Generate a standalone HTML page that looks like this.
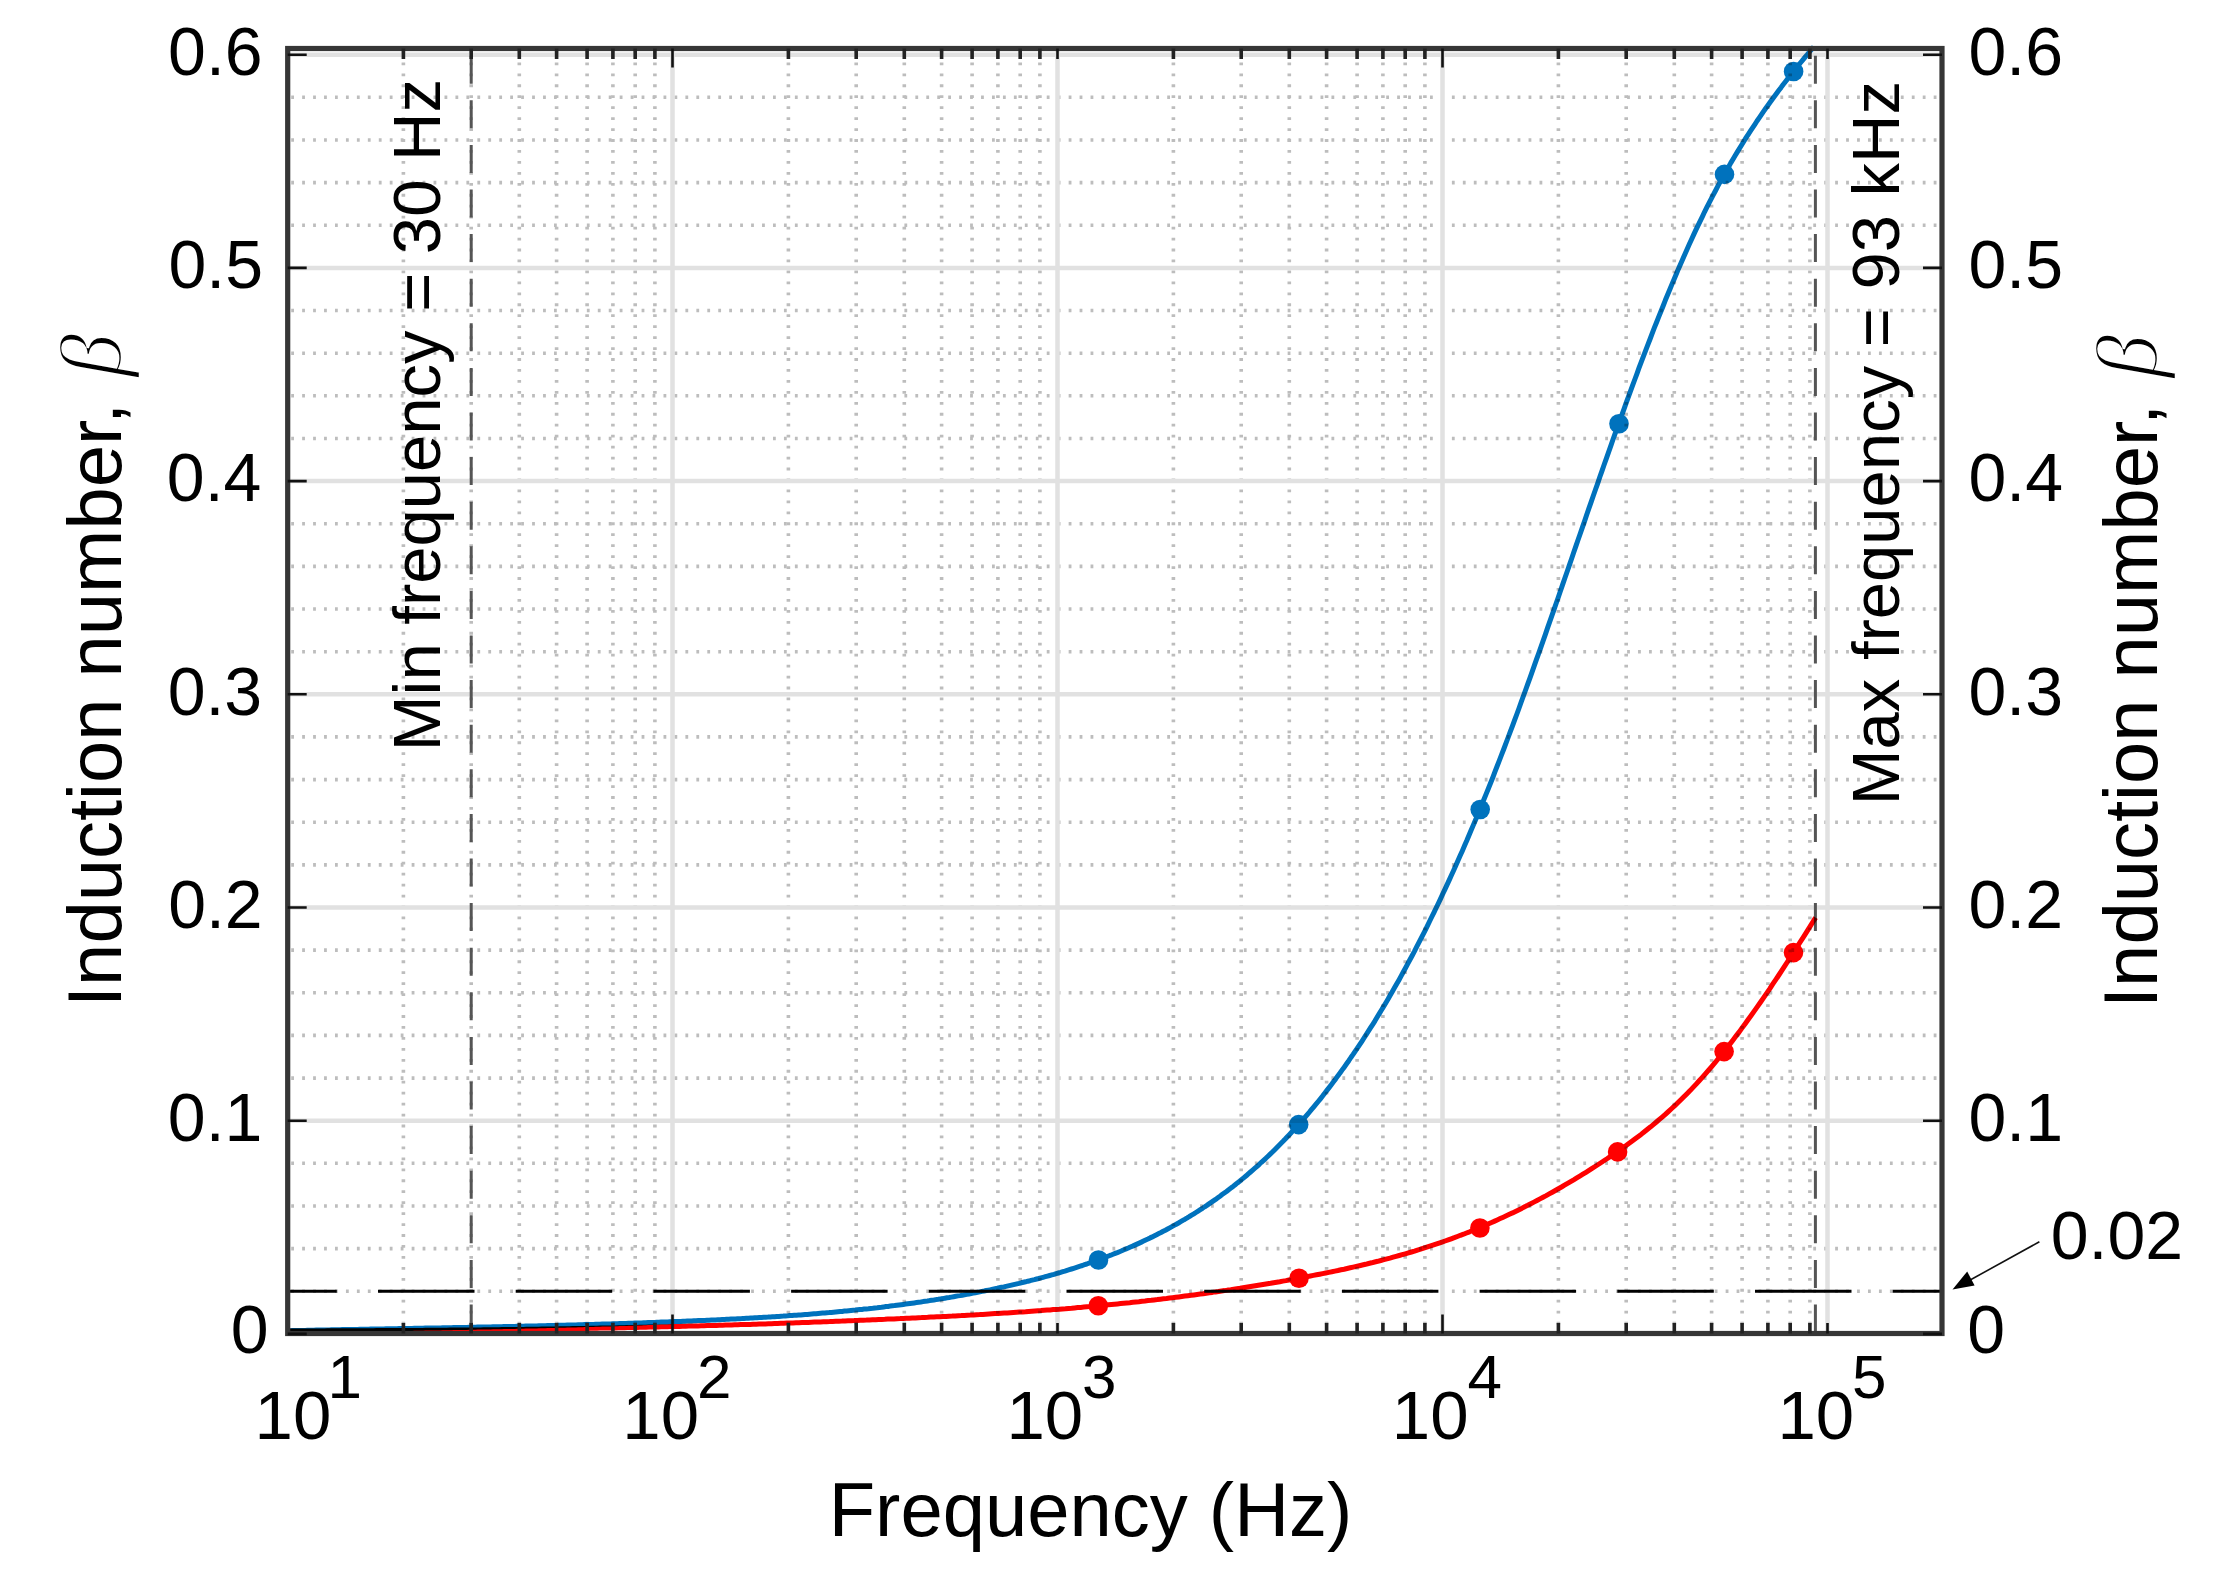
<!DOCTYPE html>
<html><head><meta charset="utf-8"><title>Induction number vs frequency</title>
<style>html,body{margin:0;padding:0;background:#fff;overflow:hidden;}svg{display:block;}</style>
</head><body>
<svg width="2215" height="1588" viewBox="0 0 2215 1588">
<rect x="0" y="0" width="2215" height="1588" fill="#fff"/>
<path d="M403.4 49.0V1331.5M471.2 49.0V1331.5M519.3 49.0V1331.5M556.6 49.0V1331.5M587.1 49.0V1331.5M612.9 49.0V1331.5M635.2 49.0V1331.5M654.9 49.0V1331.5M788.4 49.0V1331.5M856.2 49.0V1331.5M904.3 49.0V1331.5M941.6 49.0V1331.5M972.1 49.0V1331.5M997.9 49.0V1331.5M1020.2 49.0V1331.5M1039.9 49.0V1331.5M1173.4 49.0V1331.5M1241.2 49.0V1331.5M1289.3 49.0V1331.5M1326.6 49.0V1331.5M1357.1 49.0V1331.5M1382.9 49.0V1331.5M1405.2 49.0V1331.5M1424.9 49.0V1331.5M1558.4 49.0V1331.5M1626.2 49.0V1331.5M1674.3 49.0V1331.5M1711.6 49.0V1331.5M1742.1 49.0V1331.5M1767.9 49.0V1331.5M1790.2 49.0V1331.5M1809.9 49.0V1331.5" stroke="#bdbdbd" stroke-width="3.6" stroke-dasharray="2.8 8.15" stroke-dashoffset="-2.5" fill="none"/>
<path d="M289.7 1291.3H1940.0M289.7 1248.6H1940.0M289.7 1206.0H1940.0M289.7 1163.3H1940.0M289.7 1078.1H1940.0M289.7 1035.4H1940.0M289.7 992.8H1940.0M289.7 950.1H1940.0M289.7 864.9H1940.0M289.7 822.2H1940.0M289.7 779.6H1940.0M289.7 736.9H1940.0M289.7 651.7H1940.0M289.7 609.0H1940.0M289.7 566.4H1940.0M289.7 523.7H1940.0M289.7 438.5H1940.0M289.7 395.8H1940.0M289.7 353.2H1940.0M289.7 310.5H1940.0M289.7 225.3H1940.0M289.7 182.6H1940.0M289.7 140.0H1940.0M289.7 97.3H1940.0" stroke="#bdbdbd" stroke-width="3.6" stroke-dasharray="2.8 8.15" stroke-dashoffset="-1.5" fill="none"/>
<path d="M672.5 48.5V1333.5M1057.5 48.5V1333.5M1442.5 48.5V1333.5M1827.5 48.5V1333.5M287.7 1120.7H1942.0M287.7 907.5H1942.0M287.7 694.3H1942.0M287.7 481.1H1942.0M287.7 267.9H1942.0M287.7 54.7H1942.0" stroke="#e1e1e1" stroke-width="4.5" fill="none"/>
<path d="M471.2 46.0V1333.5" stroke="#555" stroke-width="3" stroke-dasharray="28 16.6" stroke-dashoffset="34.90" fill="none"/>
<path d="M1815.4 46.0V1333.5" stroke="#555" stroke-width="3" stroke-dasharray="28 16.6" stroke-dashoffset="34.90" fill="none"/>
<path d="M287.7 1291.3H1942.0" stroke="#000" stroke-width="3" stroke-dasharray="96.5 41.2" stroke-dashoffset="47.40" fill="none"/>
<g style="mix-blend-mode:multiply">
<path d="M287.7 1331.0 L290.8 1331.0 L293.8 1330.9 L296.9 1330.9 L299.9 1330.9 L303.0 1330.9 L306.1 1330.9 L309.1 1330.9 L312.2 1330.9 L315.3 1330.9 L318.3 1330.9 L321.4 1330.9 L324.4 1330.9 L327.5 1330.8 L330.6 1330.8 L333.6 1330.8 L336.7 1330.8 L339.8 1330.8 L342.8 1330.8 L345.9 1330.8 L348.9 1330.8 L352.0 1330.8 L355.1 1330.7 L358.1 1330.7 L361.2 1330.7 L364.2 1330.7 L367.3 1330.7 L370.4 1330.7 L373.4 1330.7 L376.5 1330.6 L379.6 1330.6 L382.6 1330.6 L385.7 1330.6 L388.7 1330.6 L391.8 1330.6 L394.9 1330.5 L397.9 1330.5 L401.0 1330.5 L404.1 1330.5 L407.1 1330.5 L410.2 1330.4 L413.2 1330.4 L416.3 1330.4 L419.4 1330.4 L422.4 1330.4 L425.5 1330.3 L428.5 1330.3 L431.6 1330.3 L434.7 1330.3 L437.7 1330.2 L440.8 1330.2 L443.9 1330.2 L446.9 1330.2 L450.0 1330.1 L453.0 1330.1 L456.1 1330.1 L459.2 1330.1 L462.2 1330.0 L465.3 1330.0 L468.4 1330.0 L471.4 1330.0 L474.5 1329.9 L477.5 1329.9 L480.6 1329.9 L483.7 1329.8 L486.7 1329.8 L489.8 1329.8 L492.8 1329.7 L495.9 1329.7 L499.0 1329.7 L502.0 1329.6 L505.1 1329.6 L508.2 1329.6 L511.2 1329.5 L514.3 1329.5 L517.3 1329.4 L520.4 1329.4 L523.5 1329.4 L526.5 1329.3 L529.6 1329.3 L532.7 1329.2 L535.7 1329.2 L538.8 1329.2 L541.8 1329.1 L544.9 1329.1 L548.0 1329.0 L551.0 1329.0 L554.1 1328.9 L557.1 1328.9 L560.2 1328.8 L563.3 1328.8 L566.3 1328.7 L569.4 1328.7 L572.5 1328.6 L575.5 1328.6 L578.6 1328.5 L581.6 1328.5 L584.7 1328.4 L587.8 1328.4 L590.8 1328.3 L593.9 1328.3 L597.0 1328.2 L600.0 1328.1 L603.1 1328.1 L606.1 1328.0 L609.2 1328.0 L612.3 1327.9 L615.3 1327.9 L618.4 1327.8 L621.4 1327.7 L624.5 1327.7 L627.6 1327.6 L630.6 1327.5 L633.7 1327.5 L636.8 1327.4 L639.8 1327.3 L642.9 1327.3 L645.9 1327.2 L649.0 1327.1 L652.1 1327.1 L655.1 1327.0 L658.2 1326.9 L661.3 1326.8 L664.3 1326.8 L667.4 1326.7 L670.4 1326.6 L673.5 1326.5 L676.6 1326.5 L679.6 1326.4 L682.7 1326.3 L685.8 1326.2 L688.8 1326.1 L691.9 1326.1 L694.9 1326.0 L698.0 1325.9 L701.1 1325.8 L704.1 1325.7 L707.2 1325.6 L710.2 1325.6 L713.3 1325.5 L716.4 1325.4 L719.4 1325.3 L722.5 1325.2 L725.6 1325.1 L728.6 1325.0 L731.7 1324.9 L734.7 1324.8 L737.8 1324.7 L740.9 1324.6 L743.9 1324.6 L747.0 1324.5 L750.1 1324.4 L753.1 1324.3 L756.2 1324.2 L759.2 1324.1 L762.3 1324.0 L765.4 1323.9 L768.4 1323.8 L771.5 1323.7 L774.5 1323.6 L777.6 1323.5 L780.7 1323.3 L783.7 1323.2 L786.8 1323.1 L789.9 1323.0 L792.9 1322.9 L796.0 1322.8 L799.0 1322.7 L802.1 1322.6 L805.2 1322.5 L808.2 1322.4 L811.3 1322.2 L814.4 1322.1 L817.4 1322.0 L820.5 1321.9 L823.5 1321.8 L826.6 1321.7 L829.7 1321.6 L832.7 1321.4 L835.8 1321.3 L838.8 1321.2 L841.9 1321.1 L845.0 1320.9 L848.0 1320.8 L851.1 1320.7 L854.2 1320.6 L857.2 1320.4 L860.3 1320.3 L863.3 1320.2 L866.4 1320.1 L869.5 1319.9 L872.5 1319.8 L875.6 1319.7 L878.7 1319.5 L881.7 1319.4 L884.8 1319.3 L887.8 1319.1 L890.9 1319.0 L894.0 1318.9 L897.0 1318.7 L900.1 1318.6 L903.1 1318.4 L906.2 1318.3 L909.3 1318.2 L912.3 1318.0 L915.4 1317.9 L918.5 1317.7 L921.5 1317.6 L924.6 1317.4 L927.6 1317.3 L930.7 1317.1 L933.8 1317.0 L936.8 1316.8 L939.9 1316.7 L943.0 1316.5 L946.0 1316.4 L949.1 1316.2 L952.1 1316.1 L955.2 1315.9 L958.3 1315.7 L961.3 1315.6 L964.4 1315.4 L967.4 1315.2 L970.5 1315.1 L973.6 1314.9 L976.6 1314.7 L979.7 1314.6 L982.8 1314.4 L985.8 1314.2 L988.9 1314.0 L991.9 1313.8 L995.0 1313.6 L998.1 1313.5 L1001.1 1313.3 L1004.2 1313.1 L1007.3 1312.9 L1010.3 1312.7 L1013.4 1312.5 L1016.4 1312.3 L1019.5 1312.1 L1022.6 1311.9 L1025.6 1311.7 L1028.7 1311.4 L1031.7 1311.2 L1034.8 1311.0 L1037.9 1310.8 L1040.9 1310.6 L1044.0 1310.3 L1047.1 1310.1 L1050.1 1309.9 L1053.2 1309.6 L1056.2 1309.4 L1059.3 1309.2 L1062.4 1308.9 L1065.4 1308.7 L1068.5 1308.4 L1071.6 1308.2 L1074.6 1307.9 L1077.7 1307.6 L1080.7 1307.4 L1083.8 1307.1 L1086.9 1306.8 L1089.9 1306.6 L1093.0 1306.3 L1096.0 1306.0 L1099.1 1305.7 L1102.2 1305.4 L1105.2 1305.1 L1108.3 1304.8 L1111.4 1304.5 L1114.4 1304.2 L1117.5 1303.9 L1120.5 1303.6 L1123.6 1303.3 L1126.7 1303.0 L1129.7 1302.7 L1132.8 1302.3 L1135.9 1302.0 L1138.9 1301.7 L1142.0 1301.3 L1145.0 1301.0 L1148.1 1300.6 L1151.2 1300.3 L1154.2 1299.9 L1157.3 1299.6 L1160.3 1299.2 L1163.4 1298.8 L1166.5 1298.5 L1169.5 1298.1 L1172.6 1297.7 L1175.7 1297.3 L1178.7 1296.9 L1181.8 1296.5 L1184.8 1296.1 L1187.9 1295.7 L1191.0 1295.3 L1194.0 1294.9 L1197.1 1294.5 L1200.2 1294.1 L1203.2 1293.7 L1206.3 1293.2 L1209.3 1292.8 L1212.4 1292.4 L1215.5 1291.9 L1218.5 1291.5 L1221.6 1291.0 L1224.6 1290.6 L1227.7 1290.1 L1230.8 1289.7 L1233.8 1289.2 L1236.9 1288.7 L1240.0 1288.3 L1243.0 1287.8 L1246.1 1287.3 L1249.1 1286.8 L1252.2 1286.3 L1255.3 1285.8 L1258.3 1285.3 L1261.4 1284.8 L1264.5 1284.3 L1267.5 1283.8 L1270.6 1283.3 L1273.6 1282.7 L1276.7 1282.2 L1279.8 1281.7 L1282.8 1281.1 L1285.9 1280.6 L1288.9 1280.0 L1292.0 1279.5 L1295.1 1278.9 L1298.1 1278.3 L1301.2 1277.8 L1304.3 1277.2 L1307.3 1276.6 L1310.4 1276.0 L1313.4 1275.4 L1316.5 1274.8 L1319.6 1274.2 L1322.6 1273.6 L1325.7 1273.0 L1328.8 1272.4 L1331.8 1271.8 L1334.9 1271.1 L1337.9 1270.5 L1341.0 1269.8 L1344.1 1269.2 L1347.1 1268.5 L1350.2 1267.8 L1353.2 1267.1 L1356.3 1266.4 L1359.4 1265.7 L1362.4 1265.0 L1365.5 1264.3 L1368.6 1263.5 L1371.6 1262.8 L1374.7 1262.0 L1377.7 1261.3 L1380.8 1260.5 L1383.9 1259.7 L1386.9 1258.9 L1390.0 1258.1 L1393.1 1257.2 L1396.1 1256.4 L1399.2 1255.5 L1402.2 1254.7 L1405.3 1253.8 L1408.4 1252.9 L1411.4 1252.0 L1414.5 1251.1 L1417.5 1250.1 L1420.6 1249.2 L1423.7 1248.2 L1426.7 1247.2 L1429.8 1246.2 L1432.9 1245.2 L1435.9 1244.2 L1439.0 1243.1 L1442.0 1242.1 L1445.1 1241.0 L1448.2 1239.9 L1451.2 1238.8 L1454.3 1237.7 L1457.4 1236.5 L1460.4 1235.3 L1463.5 1234.2 L1466.5 1233.0 L1469.6 1231.8 L1472.7 1230.5 L1475.7 1229.3 L1478.8 1228.0 L1481.9 1226.7 L1484.9 1225.4 L1488.0 1224.1 L1491.0 1222.7 L1494.1 1221.4 L1497.2 1220.0 L1500.2 1218.6 L1503.3 1217.2 L1506.3 1215.8 L1509.4 1214.3 L1512.5 1212.9 L1515.5 1211.4 L1518.6 1209.9 L1521.7 1208.4 L1524.7 1206.8 L1527.8 1205.3 L1530.8 1203.7 L1533.9 1202.1 L1537.0 1200.5 L1540.0 1198.9 L1543.1 1197.2 L1546.2 1195.6 L1549.2 1193.9 L1552.3 1192.2 L1555.3 1190.5 L1558.4 1188.7 L1561.5 1187.0 L1564.5 1185.2 L1567.6 1183.4 L1570.6 1181.6 L1573.7 1179.8 L1576.8 1177.9 L1579.8 1176.1 L1582.9 1174.2 L1586.0 1172.3 L1589.0 1170.4 L1592.1 1168.4 L1595.1 1166.5 L1598.2 1164.5 L1601.3 1162.5 L1604.3 1160.5 L1607.4 1158.5 L1610.5 1156.4 L1613.5 1154.4 L1616.6 1152.3 L1619.6 1150.1 L1622.7 1148.0 L1625.8 1145.8 L1628.8 1143.6 L1631.9 1141.3 L1634.9 1139.0 L1638.0 1136.7 L1641.1 1134.4 L1644.1 1132.0 L1647.2 1129.5 L1650.3 1127.1 L1653.3 1124.6 L1656.4 1122.0 L1659.4 1119.4 L1662.5 1116.8 L1665.6 1114.1 L1668.6 1111.3 L1671.7 1108.5 L1674.8 1105.7 L1677.8 1102.8 L1680.9 1099.8 L1683.9 1096.8 L1687.0 1093.7 L1690.1 1090.6 L1693.1 1087.4 L1696.2 1084.1 L1699.2 1080.8 L1702.3 1077.4 L1705.4 1073.9 L1708.4 1070.4 L1711.5 1066.8 L1714.6 1063.2 L1717.6 1059.5 L1720.7 1055.7 L1723.7 1051.9 L1726.8 1048.1 L1729.9 1044.1 L1732.9 1040.2 L1736.0 1036.1 L1739.1 1032.1 L1742.1 1027.9 L1745.2 1023.7 L1748.2 1019.5 L1751.3 1015.3 L1754.4 1010.9 L1757.4 1006.6 L1760.5 1002.2 L1763.5 997.8 L1766.6 993.3 L1769.7 988.8 L1772.7 984.2 L1775.8 979.7 L1778.9 975.0 L1781.9 970.4 L1785.0 965.7 L1788.0 961.0 L1791.1 956.3 L1794.2 951.5 L1797.2 946.7 L1800.3 941.9 L1803.4 937.1 L1806.4 932.3 L1809.5 927.4 L1812.5 922.5 L1815.6 917.6" stroke="#ff0000" stroke-width="5" fill="none" stroke-linejoin="round"/>
<circle cx="1098.3" cy="1305.8" r="9.8" fill="#ff0000"/>
<circle cx="1299.0" cy="1278.2" r="9.8" fill="#ff0000"/>
<circle cx="1479.9" cy="1228.0" r="9.8" fill="#ff0000"/>
<circle cx="1617.6" cy="1151.9" r="9.8" fill="#ff0000"/>
<circle cx="1724.1" cy="1051.6" r="9.8" fill="#ff0000"/>
<circle cx="1793.5" cy="952.6" r="9.8" fill="#ff0000"/>
</g><g style="mix-blend-mode:multiply">
<path d="M287.7 1330.7 L289.9 1330.7 L292.1 1330.6 L294.2 1330.6 L296.4 1330.5 L298.6 1330.5 L300.8 1330.4 L303.0 1330.4 L305.2 1330.4 L307.3 1330.3 L309.5 1330.3 L311.7 1330.2 L313.9 1330.2 L316.1 1330.1 L318.3 1330.1 L320.4 1330.1 L322.6 1330.0 L324.8 1330.0 L327.0 1329.9 L329.2 1329.9 L331.4 1329.8 L333.5 1329.8 L335.7 1329.8 L337.9 1329.7 L340.1 1329.7 L342.3 1329.6 L344.5 1329.6 L346.6 1329.6 L348.8 1329.5 L351.0 1329.5 L353.2 1329.4 L355.4 1329.4 L357.6 1329.4 L359.7 1329.3 L361.9 1329.3 L364.1 1329.2 L366.3 1329.2 L368.5 1329.2 L370.7 1329.1 L372.8 1329.1 L375.0 1329.0 L377.2 1329.0 L379.4 1329.0 L381.6 1328.9 L383.8 1328.9 L385.9 1328.8 L388.1 1328.8 L390.3 1328.8 L392.5 1328.7 L394.7 1328.7 L396.9 1328.7 L399.0 1328.6 L401.2 1328.6 L403.4 1328.5 L405.6 1328.5 L407.8 1328.5 L410.0 1328.4 L412.1 1328.4 L414.3 1328.3 L416.5 1328.3 L418.7 1328.3 L420.9 1328.2 L423.1 1328.2 L425.2 1328.1 L427.4 1328.1 L429.6 1328.1 L431.8 1328.0 L434.0 1328.0 L436.2 1327.9 L438.3 1327.9 L440.5 1327.9 L442.7 1327.8 L444.9 1327.8 L447.1 1327.7 L449.3 1327.7 L451.4 1327.7 L453.6 1327.6 L455.8 1327.6 L458.0 1327.5 L460.2 1327.5 L462.4 1327.4 L464.5 1327.4 L466.7 1327.4 L468.9 1327.3 L471.1 1327.3 L473.3 1327.2 L475.5 1327.2 L477.6 1327.1 L479.8 1327.1 L482.0 1327.1 L484.2 1327.0 L486.4 1327.0 L488.6 1326.9 L490.7 1326.9 L492.9 1326.8 L495.1 1326.8 L497.3 1326.7 L499.5 1326.7 L501.7 1326.7 L503.8 1326.6 L506.0 1326.6 L508.2 1326.5 L510.4 1326.5 L512.6 1326.4 L514.8 1326.4 L516.9 1326.3 L519.1 1326.3 L521.3 1326.2 L523.5 1326.2 L525.7 1326.1 L527.9 1326.1 L530.0 1326.0 L532.2 1326.0 L534.4 1325.9 L536.6 1325.9 L538.8 1325.8 L541.0 1325.8 L543.1 1325.7 L545.3 1325.7 L547.5 1325.6 L549.7 1325.6 L551.9 1325.5 L554.1 1325.4 L556.2 1325.4 L558.4 1325.3 L560.6 1325.3 L562.8 1325.2 L565.0 1325.2 L567.2 1325.1 L569.3 1325.0 L571.5 1325.0 L573.7 1324.9 L575.9 1324.9 L578.1 1324.8 L580.3 1324.8 L582.4 1324.7 L584.6 1324.6 L586.8 1324.6 L589.0 1324.5 L591.2 1324.4 L593.4 1324.4 L595.5 1324.3 L597.7 1324.3 L599.9 1324.2 L602.1 1324.1 L604.3 1324.1 L606.5 1324.0 L608.6 1323.9 L610.8 1323.9 L613.0 1323.8 L615.2 1323.7 L617.4 1323.7 L619.6 1323.6 L621.7 1323.5 L623.9 1323.4 L626.1 1323.4 L628.3 1323.3 L630.5 1323.2 L632.7 1323.2 L634.8 1323.1 L637.0 1323.0 L639.2 1322.9 L641.4 1322.9 L643.6 1322.8 L645.8 1322.7 L647.9 1322.6 L650.1 1322.5 L652.3 1322.5 L654.5 1322.4 L656.7 1322.3 L658.9 1322.2 L661.0 1322.1 L663.2 1322.1 L665.4 1322.0 L667.6 1321.9 L669.8 1321.8 L672.0 1321.7 L674.1 1321.6 L676.3 1321.6 L678.5 1321.5 L680.7 1321.4 L682.9 1321.3 L685.1 1321.2 L687.2 1321.1 L689.4 1321.0 L691.6 1320.9 L693.8 1320.8 L696.0 1320.7 L698.2 1320.6 L700.3 1320.5 L702.5 1320.5 L704.7 1320.4 L706.9 1320.3 L709.1 1320.2 L711.3 1320.1 L713.4 1320.0 L715.6 1319.9 L717.8 1319.8 L720.0 1319.7 L722.2 1319.5 L724.4 1319.4 L726.5 1319.3 L728.7 1319.2 L730.9 1319.1 L733.1 1319.0 L735.3 1318.9 L737.5 1318.8 L739.6 1318.7 L741.8 1318.6 L744.0 1318.4 L746.2 1318.3 L748.4 1318.2 L750.6 1318.1 L752.7 1318.0 L754.9 1317.8 L757.1 1317.7 L759.3 1317.6 L761.5 1317.5 L763.7 1317.3 L765.8 1317.2 L768.0 1317.1 L770.2 1316.9 L772.4 1316.8 L774.6 1316.7 L776.8 1316.5 L778.9 1316.4 L781.1 1316.2 L783.3 1316.1 L785.5 1315.9 L787.7 1315.8 L789.9 1315.6 L792.0 1315.5 L794.2 1315.3 L796.4 1315.2 L798.6 1315.0 L800.8 1314.9 L802.9 1314.7 L805.1 1314.5 L807.3 1314.4 L809.5 1314.2 L811.7 1314.0 L813.9 1313.8 L816.0 1313.7 L818.2 1313.5 L820.4 1313.3 L822.6 1313.1 L824.8 1312.9 L827.0 1312.7 L829.1 1312.6 L831.3 1312.4 L833.5 1312.2 L835.7 1312.0 L837.9 1311.8 L840.1 1311.6 L842.2 1311.4 L844.4 1311.1 L846.6 1310.9 L848.8 1310.7 L851.0 1310.5 L853.2 1310.3 L855.3 1310.1 L857.5 1309.8 L859.7 1309.6 L861.9 1309.4 L864.1 1309.1 L866.3 1308.9 L868.4 1308.7 L870.6 1308.4 L872.8 1308.2 L875.0 1307.9 L877.2 1307.7 L879.4 1307.4 L881.5 1307.2 L883.7 1306.9 L885.9 1306.6 L888.1 1306.4 L890.3 1306.1 L892.5 1305.8 L894.6 1305.6 L896.8 1305.3 L899.0 1305.0 L901.2 1304.7 L903.4 1304.4 L905.6 1304.1 L907.7 1303.8 L909.9 1303.5 L912.1 1303.2 L914.3 1302.9 L916.5 1302.6 L918.7 1302.3 L920.8 1302.0 L923.0 1301.6 L925.2 1301.3 L927.4 1301.0 L929.6 1300.6 L931.8 1300.3 L933.9 1300.0 L936.1 1299.6 L938.3 1299.3 L940.5 1298.9 L942.7 1298.6 L944.9 1298.2 L947.0 1297.8 L949.2 1297.5 L951.4 1297.1 L953.6 1296.7 L955.8 1296.3 L958.0 1295.9 L960.1 1295.6 L962.3 1295.2 L964.5 1294.8 L966.7 1294.4 L968.9 1294.0 L971.1 1293.5 L973.2 1293.1 L975.4 1292.7 L977.6 1292.3 L979.8 1291.9 L982.0 1291.4 L984.2 1291.0 L986.3 1290.5 L988.5 1290.1 L990.7 1289.7 L992.9 1289.2 L995.1 1288.7 L997.3 1288.3 L999.4 1287.8 L1001.6 1287.3 L1003.8 1286.9 L1006.0 1286.4 L1008.2 1285.9 L1010.4 1285.4 L1012.5 1284.9 L1014.7 1284.4 L1016.9 1283.9 L1019.1 1283.4 L1021.3 1282.8 L1023.5 1282.3 L1025.6 1281.8 L1027.8 1281.2 L1030.0 1280.7 L1032.2 1280.1 L1034.4 1279.6 L1036.6 1279.0 L1038.7 1278.5 L1040.9 1277.9 L1043.1 1277.3 L1045.3 1276.7 L1047.5 1276.1 L1049.7 1275.5 L1051.8 1274.9 L1054.0 1274.3 L1056.2 1273.6 L1058.4 1273.0 L1060.6 1272.4 L1062.8 1271.7 L1064.9 1271.1 L1067.1 1270.4 L1069.3 1269.7 L1071.5 1269.0 L1073.7 1268.3 L1075.9 1267.6 L1078.0 1266.9 L1080.2 1266.2 L1082.4 1265.5 L1084.6 1264.7 L1086.8 1264.0 L1089.0 1263.2 L1091.1 1262.5 L1093.3 1261.7 L1095.5 1260.9 L1097.7 1260.1 L1099.9 1259.3 L1102.1 1258.5 L1104.2 1257.7 L1106.4 1256.9 L1108.6 1256.0 L1110.8 1255.2 L1113.0 1254.3 L1115.2 1253.4 L1117.3 1252.6 L1119.5 1251.7 L1121.7 1250.8 L1123.9 1249.8 L1126.1 1248.9 L1128.3 1248.0 L1130.4 1247.0 L1132.6 1246.1 L1134.8 1245.1 L1137.0 1244.1 L1139.2 1243.1 L1141.4 1242.1 L1143.5 1241.1 L1145.7 1240.0 L1147.9 1239.0 L1150.1 1237.9 L1152.3 1236.9 L1154.5 1235.8 L1156.6 1234.7 L1158.8 1233.6 L1161.0 1232.5 L1163.2 1231.3 L1165.4 1230.2 L1167.6 1229.0 L1169.7 1227.8 L1171.9 1226.6 L1174.1 1225.4 L1176.3 1224.2 L1178.5 1223.0 L1180.7 1221.7 L1182.8 1220.4 L1185.0 1219.2 L1187.2 1217.9 L1189.4 1216.5 L1191.6 1215.2 L1193.8 1213.9 L1195.9 1212.5 L1198.1 1211.1 L1200.3 1209.7 L1202.5 1208.3 L1204.7 1206.8 L1206.9 1205.4 L1209.0 1203.9 L1211.2 1202.4 L1213.4 1200.9 L1215.6 1199.4 L1217.8 1197.8 L1220.0 1196.2 L1222.1 1194.6 L1224.3 1193.0 L1226.5 1191.4 L1228.7 1189.7 L1230.9 1188.1 L1233.1 1186.4 L1235.2 1184.7 L1237.4 1182.9 L1239.6 1181.2 L1241.8 1179.4 L1244.0 1177.6 L1246.2 1175.8 L1248.3 1173.9 L1250.5 1172.0 L1252.7 1170.1 L1254.9 1168.2 L1257.1 1166.3 L1259.3 1164.3 L1261.4 1162.3 L1263.6 1160.3 L1265.8 1158.3 L1268.0 1156.2 L1270.2 1154.1 L1272.4 1152.0 L1274.5 1149.9 L1276.7 1147.7 L1278.9 1145.5 L1281.1 1143.3 L1283.3 1141.1 L1285.5 1138.8 L1287.6 1136.5 L1289.8 1134.2 L1292.0 1131.8 L1294.2 1129.5 L1296.4 1127.0 L1298.6 1124.6 L1300.7 1122.2 L1302.9 1119.7 L1305.1 1117.2 L1307.3 1114.6 L1309.5 1112.0 L1311.6 1109.4 L1313.8 1106.8 L1316.0 1104.2 L1318.2 1101.5 L1320.4 1098.8 L1322.6 1096.0 L1324.7 1093.2 L1326.9 1090.4 L1329.1 1087.6 L1331.3 1084.7 L1333.5 1081.8 L1335.7 1078.9 L1337.8 1075.9 L1340.0 1073.0 L1342.2 1069.9 L1344.4 1066.9 L1346.6 1063.8 L1348.8 1060.7 L1350.9 1057.5 L1353.1 1054.4 L1355.3 1051.1 L1357.5 1047.9 L1359.7 1044.6 L1361.9 1041.3 L1364.0 1038.0 L1366.2 1034.6 L1368.4 1031.2 L1370.6 1027.7 L1372.8 1024.3 L1375.0 1020.8 L1377.1 1017.2 L1379.3 1013.6 L1381.5 1010.0 L1383.7 1006.4 L1385.9 1002.7 L1388.1 999.0 L1390.2 995.2 L1392.4 991.4 L1394.6 987.6 L1396.8 983.7 L1399.0 979.9 L1401.2 975.9 L1403.3 972.0 L1405.5 968.0 L1407.7 963.9 L1409.9 959.8 L1412.1 955.7 L1414.3 951.6 L1416.4 947.4 L1418.6 943.2 L1420.8 938.9 L1423.0 934.6 L1425.2 930.3 L1427.4 925.9 L1429.5 921.5 L1431.7 917.0 L1433.9 912.6 L1436.1 908.0 L1438.3 903.5 L1440.5 898.9 L1442.6 894.3 L1444.8 889.6 L1447.0 884.9 L1449.2 880.1 L1451.4 875.3 L1453.6 870.5 L1455.7 865.7 L1457.9 860.8 L1460.1 855.8 L1462.3 850.9 L1464.5 845.8 L1466.7 840.8 L1468.8 835.7 L1471.0 830.6 L1473.2 825.4 L1475.4 820.2 L1477.6 815.0 L1479.8 809.7 L1481.9 804.4 L1484.1 799.0 L1486.3 793.6 L1488.5 788.2 L1490.7 782.7 L1492.9 777.2 L1495.0 771.6 L1497.2 766.0 L1499.4 760.4 L1501.6 754.7 L1503.8 749.0 L1506.0 743.2 L1508.1 737.5 L1510.3 731.6 L1512.5 725.8 L1514.7 719.9 L1516.9 714.0 L1519.1 708.0 L1521.2 702.0 L1523.4 696.0 L1525.6 690.0 L1527.8 683.9 L1530.0 677.8 L1532.2 671.7 L1534.3 665.6 L1536.5 659.4 L1538.7 653.3 L1540.9 647.1 L1543.1 640.9 L1545.3 634.6 L1547.4 628.4 L1549.6 622.1 L1551.8 615.9 L1554.0 609.6 L1556.2 603.3 L1558.4 597.0 L1560.5 590.7 L1562.7 584.4 L1564.9 578.0 L1567.1 571.7 L1569.3 565.4 L1571.5 559.0 L1573.6 552.7 L1575.8 546.4 L1578.0 540.0 L1580.2 533.7 L1582.4 527.4 L1584.6 521.1 L1586.7 514.7 L1588.9 508.4 L1591.1 502.1 L1593.3 495.8 L1595.5 489.5 L1597.7 483.3 L1599.8 477.0 L1602.0 470.8 L1604.2 464.5 L1606.4 458.3 L1608.6 452.1 L1610.8 445.9 L1612.9 439.8 L1615.1 433.6 L1617.3 427.5 L1619.5 421.4 L1621.7 415.4 L1623.9 409.3 L1626.0 403.3 L1628.2 397.3 L1630.4 391.3 L1632.6 385.4 L1634.8 379.5 L1637.0 373.6 L1639.1 367.7 L1641.3 361.9 L1643.5 356.1 L1645.7 350.4 L1647.9 344.7 L1650.1 339.0 L1652.2 333.3 L1654.4 327.7 L1656.6 322.2 L1658.8 316.6 L1661.0 311.2 L1663.2 305.7 L1665.3 300.3 L1667.5 295.0 L1669.7 289.7 L1671.9 284.4 L1674.1 279.2 L1676.3 274.0 L1678.4 268.9 L1680.6 263.9 L1682.8 258.9 L1685.0 253.9 L1687.2 249.0 L1689.4 244.1 L1691.5 239.4 L1693.7 234.6 L1695.9 229.9 L1698.1 225.3 L1700.3 220.8 L1702.5 216.3 L1704.6 211.8 L1706.8 207.4 L1709.0 203.1 L1711.2 198.9 L1713.4 194.7 L1715.6 190.5 L1717.7 186.4 L1719.9 182.4 L1722.1 178.4 L1724.3 174.4 L1726.5 170.6 L1728.7 166.7 L1730.8 162.9 L1733.0 159.2 L1735.2 155.5 L1737.4 151.9 L1739.6 148.3 L1741.8 144.7 L1743.9 141.2 L1746.1 137.7 L1748.3 134.3 L1750.5 130.9 L1752.7 127.6 L1754.9 124.3 L1757.0 121.0 L1759.2 117.8 L1761.4 114.6 L1763.6 111.4 L1765.8 108.3 L1768.0 105.2 L1770.1 102.2 L1772.3 99.2 L1774.5 96.2 L1776.7 93.2 L1778.9 90.3 L1781.1 87.4 L1783.2 84.5 L1785.4 81.7 L1787.6 78.9 L1789.8 76.1 L1792.0 73.3 L1794.2 70.6 L1796.3 67.9 L1798.5 65.2 L1800.7 62.5 L1802.9 59.9 L1805.1 57.2 L1807.3 54.6 L1809.4 52.0 L1811.6 49.4 L1813.8 46.9" stroke="#0072bd" stroke-width="5" fill="none" stroke-linejoin="round"/>
<circle cx="1098.5" cy="1260.0" r="9.8" fill="#0072bd"/>
<circle cx="1298.7" cy="1124.6" r="9.8" fill="#0072bd"/>
<circle cx="1480.2" cy="809.5" r="9.8" fill="#0072bd"/>
<circle cx="1619.0" cy="423.8" r="9.8" fill="#0072bd"/>
<circle cx="1724.5" cy="174.4" r="9.8" fill="#0072bd"/>
<circle cx="1793.6" cy="71.5" r="9.8" fill="#0072bd"/>
</g>
<rect x="287.7" y="48.5" width="1654.3" height="1285.0" fill="none" stroke="#363636" stroke-width="5.2"/>
<path d="M287.7 1333.9h19M1942.0 1333.9h-19M287.7 1120.7h19M1942.0 1120.7h-19M287.7 907.5h19M1942.0 907.5h-19M287.7 694.3h19M1942.0 694.3h-19M287.7 481.1h19M1942.0 481.1h-19M287.7 267.9h19M1942.0 267.9h-19M287.7 54.7h19M1942.0 54.7h-19M672.5 1333.5v-19M672.5 48.5v19M1442.5 1333.5v-19M1442.5 48.5v19M1057.5 1333.5v-10.5M1057.5 48.5v10.5M1827.5 1333.5v-10.5M1827.5 48.5v10.5" stroke="#111" stroke-width="2.6" fill="none"/>
<path d="M403.4 1333.5v-10.5M403.4 48.5v10.5M471.2 1333.5v-10.5M471.2 48.5v10.5M519.3 1333.5v-10.5M519.3 48.5v10.5M556.6 1333.5v-10.5M556.6 48.5v10.5M587.1 1333.5v-10.5M587.1 48.5v10.5M612.9 1333.5v-10.5M612.9 48.5v10.5M635.2 1333.5v-10.5M635.2 48.5v10.5M654.9 1333.5v-10.5M654.9 48.5v10.5M788.4 1333.5v-10.5M788.4 48.5v10.5M856.2 1333.5v-10.5M856.2 48.5v10.5M904.3 1333.5v-10.5M904.3 48.5v10.5M941.6 1333.5v-10.5M941.6 48.5v10.5M972.1 1333.5v-10.5M972.1 48.5v10.5M997.9 1333.5v-10.5M997.9 48.5v10.5M1020.2 1333.5v-10.5M1020.2 48.5v10.5M1039.9 1333.5v-10.5M1039.9 48.5v10.5M1173.4 1333.5v-10.5M1173.4 48.5v10.5M1241.2 1333.5v-10.5M1241.2 48.5v10.5M1289.3 1333.5v-10.5M1289.3 48.5v10.5M1326.6 1333.5v-10.5M1326.6 48.5v10.5M1357.1 1333.5v-10.5M1357.1 48.5v10.5M1382.9 1333.5v-10.5M1382.9 48.5v10.5M1405.2 1333.5v-10.5M1405.2 48.5v10.5M1424.9 1333.5v-10.5M1424.9 48.5v10.5M1558.4 1333.5v-10.5M1558.4 48.5v10.5M1626.2 1333.5v-10.5M1626.2 48.5v10.5M1674.3 1333.5v-10.5M1674.3 48.5v10.5M1711.6 1333.5v-10.5M1711.6 48.5v10.5M1742.1 1333.5v-10.5M1742.1 48.5v10.5M1767.9 1333.5v-10.5M1767.9 48.5v10.5M1790.2 1333.5v-10.5M1790.2 48.5v10.5M1809.9 1333.5v-10.5M1809.9 48.5v10.5" stroke="#222" stroke-width="3.6" fill="none"/>
<path d="M2039.4 1241.8L1962 1284.5" stroke="#111" stroke-width="1.6" fill="none"/>
<path d="M1952.5 1289.6L1967.2 1271.6L1974.6 1285.6Z" fill="#000"/>
<g fill="#000">
<text x="268.6" y="1353.2" font-family="'Liberation Sans', Arial, Helvetica, sans-serif" font-size="68" text-anchor="end">0</text>
<text x="1967.3" y="1352.6" font-family="'Liberation Sans', Arial, Helvetica, sans-serif" font-size="68">0</text>
<text x="262.4" y="1140.8" font-family="'Liberation Sans', Arial, Helvetica, sans-serif" font-size="68" text-anchor="end">0.1</text>
<text x="1968.5" y="1140.8" font-family="'Liberation Sans', Arial, Helvetica, sans-serif" font-size="68">0.1</text>
<text x="262.7" y="928.2" font-family="'Liberation Sans', Arial, Helvetica, sans-serif" font-size="68" text-anchor="end">0.2</text>
<text x="1968.5" y="928.2" font-family="'Liberation Sans', Arial, Helvetica, sans-serif" font-size="68">0.2</text>
<text x="262.2" y="714.6" font-family="'Liberation Sans', Arial, Helvetica, sans-serif" font-size="68" text-anchor="end">0.3</text>
<text x="1968.5" y="714.6" font-family="'Liberation Sans', Arial, Helvetica, sans-serif" font-size="68">0.3</text>
<text x="261.4" y="501.0" font-family="'Liberation Sans', Arial, Helvetica, sans-serif" font-size="68" text-anchor="end">0.4</text>
<text x="1968.5" y="501.0" font-family="'Liberation Sans', Arial, Helvetica, sans-serif" font-size="68">0.4</text>
<text x="263.0" y="288.4" font-family="'Liberation Sans', Arial, Helvetica, sans-serif" font-size="68" text-anchor="end">0.5</text>
<text x="1968.5" y="288.4" font-family="'Liberation Sans', Arial, Helvetica, sans-serif" font-size="68">0.5</text>
<text x="262.6" y="74.8" font-family="'Liberation Sans', Arial, Helvetica, sans-serif" font-size="68" text-anchor="end">0.6</text>
<text x="1968.5" y="74.8" font-family="'Liberation Sans', Arial, Helvetica, sans-serif" font-size="68">0.6</text>
<text x="2050.8" y="1258.8" font-family="'Liberation Sans', Arial, Helvetica, sans-serif" font-size="68">0.02</text>
<text x="254.6" y="1438.9" font-family="'Liberation Sans', Arial, Helvetica, sans-serif" font-size="69">10</text>
<text x="327.6" y="1397.9" font-family="'Liberation Sans', Arial, Helvetica, sans-serif" font-size="62">1</text>
<text x="622.3" y="1438.9" font-family="'Liberation Sans', Arial, Helvetica, sans-serif" font-size="69">10</text>
<text x="697.0" y="1397.9" font-family="'Liberation Sans', Arial, Helvetica, sans-serif" font-size="62">2</text>
<text x="1006.5" y="1438.9" font-family="'Liberation Sans', Arial, Helvetica, sans-serif" font-size="69">10</text>
<text x="1081.9" y="1397.9" font-family="'Liberation Sans', Arial, Helvetica, sans-serif" font-size="62">3</text>
<text x="1391.8" y="1438.9" font-family="'Liberation Sans', Arial, Helvetica, sans-serif" font-size="69">10</text>
<text x="1467.5" y="1397.9" font-family="'Liberation Sans', Arial, Helvetica, sans-serif" font-size="62">4</text>
<text x="1777.5" y="1438.9" font-family="'Liberation Sans', Arial, Helvetica, sans-serif" font-size="69">10</text>
<text x="1852.1" y="1397.9" font-family="'Liberation Sans', Arial, Helvetica, sans-serif" font-size="62">5</text>
<text x="828.7" y="1536.2" font-family="'Liberation Sans', Arial, Helvetica, sans-serif" font-size="76">Frequency (Hz)</text>
<text transform="translate(121.3 1007.0) rotate(-90)" font-family="'Liberation Sans', Arial, Helvetica, sans-serif" font-size="76">Induction number, <tspan dx="4.5" font-family="'Liberation Serif', 'Times New Roman', serif" font-style="italic" font-size="88" stroke="#fff" stroke-width="2.4" paint-order="fill">β</tspan></text>
<text transform="translate(2157.3 1008.0) rotate(-90)" font-family="'Liberation Sans', Arial, Helvetica, sans-serif" font-size="76">Induction number, <tspan dx="4.5" font-family="'Liberation Serif', 'Times New Roman', serif" font-style="italic" font-size="88" stroke="#fff" stroke-width="2.4" paint-order="fill">β</tspan></text>
<text transform="translate(440.1 751.3) rotate(-90)" font-family="'Liberation Sans', Arial, Helvetica, sans-serif" font-size="67">Min frequency = 30 Hz</text>
<text transform="translate(1899.4 805.3) rotate(-90)" font-family="'Liberation Sans', Arial, Helvetica, sans-serif" font-size="67">Max frequency = 93 kHz</text>
</g>
</svg>
</body></html>
